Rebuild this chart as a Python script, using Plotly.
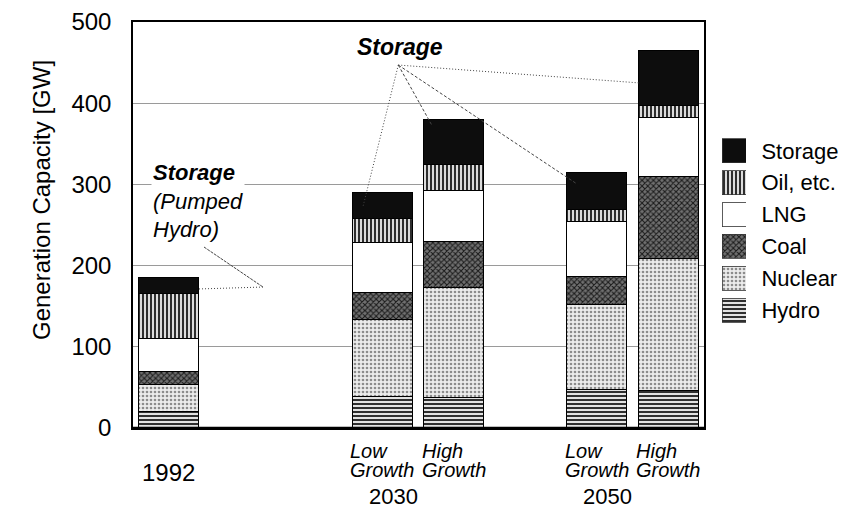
import plotly.graph_objects as go

# ---------------- data ----------------
bar_labels = ["1992", "2030 Low Growth", "2030 High Growth", "2050 Low Growth", "2050 High Growth"]
hydro = [20, 39, 38, 47, 46]
nuclear = [34, 95, 135, 105, 163]
coal = [15, 33, 57, 34, 101]
lng = [41, 62, 62, 68, 72]
oil = [56, 29, 32, 15, 15]
storage = [19, 32, 56, 46, 68]

series_names = ["Hydro", "Nuclear", "Coal", "LNG", "Oil, etc.", "Storage"]
series_values = [hydro, nuclear, coal, lng, oil, storage]

scenario_line1 = ["", "Low", "High", "Low", "High"]
scenario_line2 = ["1992", "Growth", "Growth", "Growth", "Growth"]
year_labels = ["2030", "2050"]
y_ticks = [0, 100, 200, 300, 400, 500]

# ---------------- layout config ----------------
W, H = 843, 508
FONT = "Liberation Sans, Arial, Helvetica, sans-serif"
slot_pos = [0, 3, 4, 6, 7]          # x slot of each bar
year_pos = [3.15, 6.15]             # x of year group labels
bar_width = 0.84

styles = {
    "Hydro":     dict(color="#e2e2e2", pattern=dict(shape="-", fgcolor="#1a1a1a", bgcolor="#e2e2e2", size=4, solidity=0.45, fillmode="replace")),
    "Nuclear":   dict(color="#e6e6e6", pattern=dict(shape=".", fgcolor="#8c8c8c", bgcolor="#ececec", size=4, solidity=0.35, fillmode="replace")),
    "Coal":      dict(color="#666666", pattern=dict(shape="x", fgcolor="#1a1a1a", bgcolor="#707070", size=4, solidity=0.45, fillmode="replace")),
    "LNG":       dict(color="#ffffff"),
    "Oil, etc.": dict(color="#d8d8d8", pattern=dict(shape="|", fgcolor="#1a1a1a", bgcolor="#dcdcdc", size=4, solidity=0.45, fillmode="replace")),
    "Storage":   dict(color="#0d0d0d"),
}

def px_x(p):
    return p / W

def px_y(p):
    return (H - p) / H

fig = go.Figure()

for name, vals in zip(series_names, series_values):
    fig.add_trace(go.Bar(
        x=slot_pos, y=vals, name=name, width=bar_width,
        marker=dict(line=dict(color="black", width=1), **styles[name]),
        xaxis="x", yaxis="y", showlegend=False,
    ))

# custom legend (swatches drawn as bars on a small side axis)
for name in series_names:
    fig.add_trace(go.Bar(
        x=[1], y=[name], orientation="h", width=0.75,
        marker=dict(line=dict(color="#333333", width=0.8), **styles[name]),
        xaxis="x2", yaxis="y2", showlegend=False,
    ))

fig.update_layout(
    width=W, height=H, autosize=False,
    margin=dict(l=0, r=0, t=0, b=0, pad=0, autoexpand=False),
    paper_bgcolor="white", plot_bgcolor="white",
    barmode="stack",
    font=dict(family=FONT, color="black"),
    xaxis=dict(
        domain=[px_x(133), px_x(704)], range=[-0.49, 7.504], automargin=False,
        showticklabels=False, showgrid=False, zeroline=False,
        showline=True, linecolor="black", linewidth=1.5, mirror=True,
    ),
    yaxis=dict(
        domain=[px_y(428), px_y(22)], range=[0, 500], automargin=False,
        tickvals=y_ticks, tickfont=dict(size=24, family=FONT),
        ticks="outside", ticklen=15, tickcolor="rgba(0,0,0,0)",
        showgrid=True, gridcolor="#9a9a9a", gridwidth=1, zeroline=False,
        showline=True, linecolor="black", linewidth=1.5, mirror=True,
    ),
    xaxis2=dict(domain=[px_x(722), px_x(746)], range=[0, 1], anchor="y2",
                visible=False, fixedrange=True, automargin=False),
    yaxis2=dict(domain=[px_y(326), px_y(135)], anchor="x2", side="right",
                type="category", categoryarray=series_names, range=[-0.5, 5.5],
                showgrid=False, zeroline=False, showline=False, automargin=False,
                ticks="outside", ticklen=10, tickcolor="rgba(0,0,0,0)",
                tickfont=dict(size=22, family=FONT)),
)

fig.add_shape(type="line", xref="paper", yref="y", x0=px_x(133), x1=px_x(704), y0=0, y1=0,
              line=dict(color="black", width=2.5), layer="above")

ann = []
ann.append(dict(text="Generation Capacity [GW]", xref="paper", yref="paper",
                x=px_x(42), y=px_y(200), textangle=-90, showarrow=False,
                font=dict(size=24, family=FONT), xanchor="center", yanchor="middle"))

for i, p in enumerate(slot_pos):
    if scenario_line1[i]:
        ann.append(dict(text="<i>" + scenario_line1[i] + "</i>", xref="x", yref="paper",
                        x=p, y=px_y(451), xanchor="left", xshift=-33, yanchor="middle",
                        borderpad=0, showarrow=False, font=dict(size=20, family=FONT)))
        ann.append(dict(text="<i>" + scenario_line2[i] + "</i>", xref="x", yref="paper",
                        x=p, y=px_y(470), xanchor="center", yanchor="middle",
                        borderpad=0, showarrow=False, font=dict(size=20, family=FONT)))
    else:
        ann.append(dict(text=scenario_line2[i], xref="x", yref="paper",
                        x=p, y=px_y(472.5), xanchor="center", yanchor="middle",
                        showarrow=False, font=dict(size=24, family=FONT)))
for yl, p in zip(year_labels, year_pos):
    ann.append(dict(text=yl, xref="x", yref="paper", x=p, y=px_y(496),
                    xanchor="center", yanchor="middle", showarrow=False,
                    font=dict(size=22, family=FONT)))

ann.append(dict(text="<b><i>Storage</i></b>", xref="paper", yref="paper",
                x=px_x(400), y=px_y(47.5), xanchor="center", yanchor="middle",
                showarrow=False, font=dict(size=23, family=FONT)))
ann.append(dict(text="<b><i>Storage</i></b><br><i>(Pumped</i><br><i>Hydro)</i>",
                xref="paper", yref="paper", x=px_x(151), y=px_y(201),
                xanchor="left", yanchor="middle", align="left", showarrow=False,
                bgcolor="white", font=dict(size=22, family=FONT)))
fig.update_layout(annotations=ann)

callout_origin = (3.224, 447.0)
callout_ends = [((2.726, 271.3), "1px,2px"), ((3.692, 373.2), "3px,2px"),
                ((5.726, 300.5), "3px,2px"), ((6.608, 424.9), "1px,2px")]
for (ex, ey), dash in callout_ends:
    fig.add_shape(type="line", xref="x", yref="y", x0=callout_origin[0], y0=callout_origin[1],
                  x1=ex, y1=ey, line=dict(color="#444444", width=1, dash=dash), layer="above")
pumped_tip = (1.330, 173.6)
fig.add_shape(type="line", xref="x", yref="y", x0=0.504, y0=222.9, x1=pumped_tip[0], y1=pumped_tip[1],
              line=dict(color="#444444", width=1, dash="3px,1px"), layer="above")
fig.add_shape(type="line", xref="x", yref="y", x0=pumped_tip[0], y0=pumped_tip[1], x1=0.42, y1=171.2,
              line=dict(color="#444444", width=1, dash="1px,2px"), layer="above")

fig.write_html("out.html", config={"displayModeBar": False},
               post_script="document.body.style.margin='0';document.body.style.padding='0';")
